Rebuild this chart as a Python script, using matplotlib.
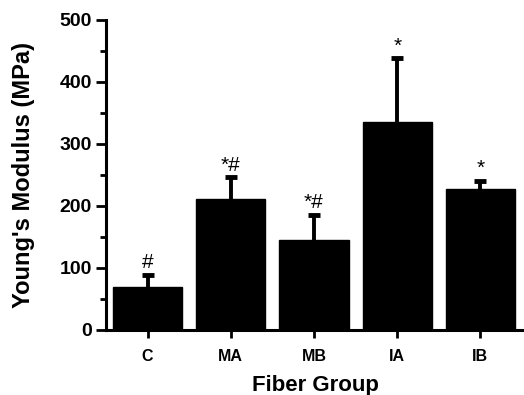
import matplotlib
matplotlib.use("Agg")
import matplotlib.pyplot as plt
from matplotlib.ticker import MultipleLocator

groups = ["C", "MA", "MB", "IA", "IB"]
means = [70, 211, 145, 335, 228]
errors = [19, 35, 41, 103, 13]
marks = ["#", "*#", "*#", "*", "*"]

plt.rcParams['font.family'] = ['Liberation Sans', 'DejaVu Sans']

W, H = 524, 395
fig = plt.figure(figsize=(W/100, H/100), dpi=100)
ax = fig.add_axes([106/W, 1-330/H, 416/W, 310/H])

x = list(range(len(groups)))
tops = [m + e for m, e in zip(means, errors)]
ax.bar(x, means, width=0.83, color='black', edgecolor='black', zorder=2)
ax.vlines(x, means, tops, color='black', linewidth=2.8, zorder=1)
ax.plot(x, tops, linestyle='none', marker='_', markersize=8, markeredgewidth=3.5,
        color='black', zorder=3)

for xi, t, lab in zip(x, tops, marks):
    ax.annotate(lab, (xi, t), xytext=(0, 2), textcoords='offset points',
                ha='center', va='bottom', fontsize=15)

ax.set_xlim(-0.5, 4.5)
ax.set_ylim(0, 500)
ax.set_xticks(x)
ax.set_xticklabels(groups, fontsize=11.5, fontweight='bold')
ax.yaxis.set_major_locator(MultipleLocator(100))
ax.yaxis.set_minor_locator(MultipleLocator(50))
for lab in ax.get_yticklabels():
    lab.set_fontweight('bold')
    lab.set_fontsize(14)
ax.tick_params(axis='y', which='major', length=7, width=2, pad=3)
ax.tick_params(axis='y', which='minor', length=4, width=2)
ax.tick_params(axis='x', length=6, width=2, pad=8)
for s in ['top', 'right']:
    ax.spines[s].set_visible(False)
for s in ['left', 'bottom']:
    ax.spines[s].set_linewidth(2.2)

fig.text(315/W, 1-391/H, "Fiber Group", fontsize=16, fontweight='bold',
         ha='center', va='baseline')
fig.text(24/W, 1-175/H, "Young's Modulus (MPa)", fontsize=17, fontweight='bold',
         ha='center', va='center', rotation=90)

fig.savefig("out.png", dpi=100)
